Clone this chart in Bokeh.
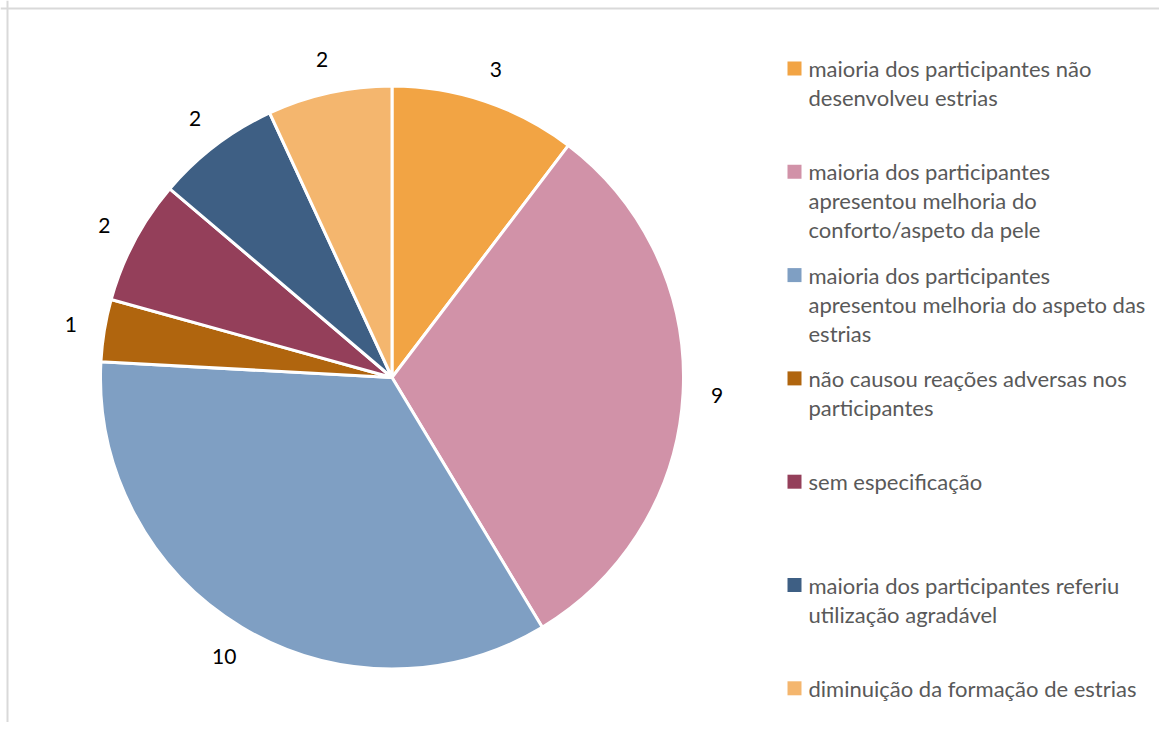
import math
from bokeh.plotting import figure
from bokeh.models import Range1d, Span, ColumnDataSource
from bokeh.core.properties import value
from bokeh.embed import file_html
from bokeh.resources import INLINE

# ---- data ----
categories = [
    "maioria dos participantes não\ndesenvolveu estrias",
    "maioria dos participantes\napresentou melhoria do\nconforto/aspeto da pele",
    "maioria dos participantes\napresentou melhoria do aspeto das\nestrias",
    "não causou reações adversas nos\nparticipantes",
    "sem especificação",
    "maioria dos participantes referiu\nutilização agradável",
    "diminuição da formação de estrias",
]
counts = [3, 9, 10, 1, 2, 2, 2]
colors = ["#F2A444", "#D192A8", "#7F9FC3", "#B0650E", "#943F5A", "#3E5F84", "#F4B66E"]

# ---- layout (screen-like coordinates, y measured from top) ----
W, H = 1159, 722
FONT = "Lato"
cx, cy_top, R = 391.5, 377.0, 291.5
cy = H - cy_top
label_r = R + 34

p = figure(width=W, height=H, output_backend="svg", toolbar_location=None,
           x_range=Range1d(0, W), y_range=Range1d(0, H), min_border=0)
p.axis.visible = False
p.grid.visible = False
p.outline_line_color = None
p.background_fill_color = "white"
p.border_fill_color = "white"

p.add_layout(Span(location=7, dimension="height", line_color="#D9D9D9", line_width=2))
p.add_layout(Span(location=H - 8, dimension="width", line_color="#D9D9D9", line_width=2))

total = sum(counts)
starts, ends, lx, ly = [], [], [], []
cum = 0
for c in counts:
    a0 = math.pi / 2 - 2 * math.pi * cum / total
    a1 = math.pi / 2 - 2 * math.pi * (cum + c) / total
    starts.append(a0)
    ends.append(a1)
    mid = (a0 + a1) / 2
    lx.append(cx + label_r * math.cos(mid))
    ly.append(cy + label_r * math.sin(mid))
    cum += c

src = ColumnDataSource(dict(start=starts, end=ends, color=colors,
                            lx=lx, ly=ly, txt=[str(c) for c in counts]))
p.wedge(x=cx, y=cy, radius=R, start_angle="start", end_angle="end",
        direction="clock", fill_color="color", line_color="white",
        line_width=3, source=src)
p.text(x="lx", y="ly", text="txt", source=src, text_align="center",
       text_baseline="middle", text_font=value(FONT), text_font_size="21px",
       text_color="#000000")

# ---- legend ----
leg_x_sq = 794.0
leg_x_txt = 808.0
first_y = H - 68.0
entry_step = 103.3
line_step = 29.0
sq_x, sq_y, tx, ty, tt = [], [], [], [], []
for i, lab in enumerate(categories):
    y0 = first_y - i * entry_step
    sq_x.append(leg_x_sq)
    sq_y.append(y0)
    for j, line in enumerate(lab.split("\n")):
        tx.append(leg_x_txt)
        ty.append(y0 - j * line_step)
        tt.append(line)

p.rect(x=sq_x, y=sq_y, width=14, height=14, fill_color=colors, line_color=None)
p.text(x=tx, y=ty, text=tt, text_align="left", text_baseline="middle",
       text_font=value(FONT), text_font_size="22px", text_color="#595959")

open("out.html", "w").write(file_html(p, INLINE))
